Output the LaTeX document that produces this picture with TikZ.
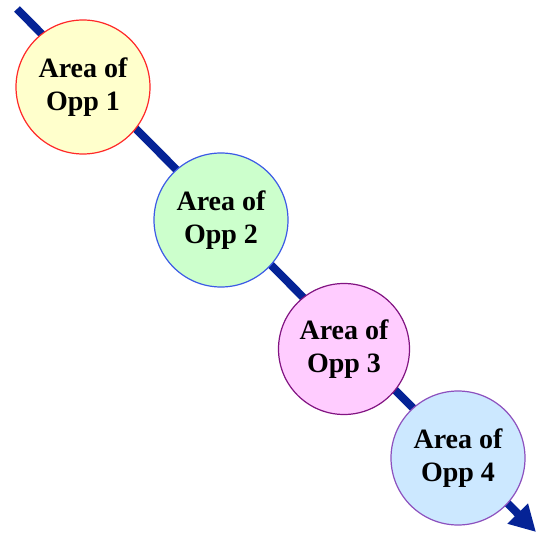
\documentclass[tikz,border=0pt]{standalone}
\usepackage{fontspec}
\setmainfont{Liberation Serif}
\usetikzlibrary{arrows.meta}
\definecolor{linecol}{RGB}{5,35,150}
\definecolor{f1}{RGB}{255,255,204}
\definecolor{d1}{RGB}{255,40,40}
\definecolor{f2}{RGB}{204,255,204}
\definecolor{d2}{RGB}{60,90,230}
\definecolor{f3}{RGB}{255,204,255}
\definecolor{d3}{RGB}{130,20,130}
\definecolor{f4}{RGB}{204,232,255}
\definecolor{d4}{RGB}{140,80,190}
\tikzset{
  opp/.style={circle, minimum size=134pt, inner sep=0pt, line width=1.2pt,
    font=\fontsize{28}{33}\selectfont\bfseries, align=center, text=black},
  flow/.style={line width=8pt, draw=linecol, -{Triangle[length=26pt,width=27pt]}}
}
\begin{document}
\begin{tikzpicture}[x=1pt,y=-1pt]
\useasboundingbox (0,0) rectangle (537,537);
\coordinate (s) at (17,9);
\coordinate (e) at (536,532);
\draw[flow] (s) -- (e);
\node[opp, fill=f1, draw=d1] (c1) at (83,87) {Area of\\Opp 1};
\node[opp, fill=f2, draw=d2] (c2) at (221,220) {Area of\\Opp 2};
\node[opp, fill=f3, draw=d3, minimum size=131pt] (c3) at (344,349) {Area of\\Opp 3};
\node[opp, fill=f4, draw=d4] (c4) at (458,458) {Area of\\Opp 4};
\end{tikzpicture}
\end{document}
